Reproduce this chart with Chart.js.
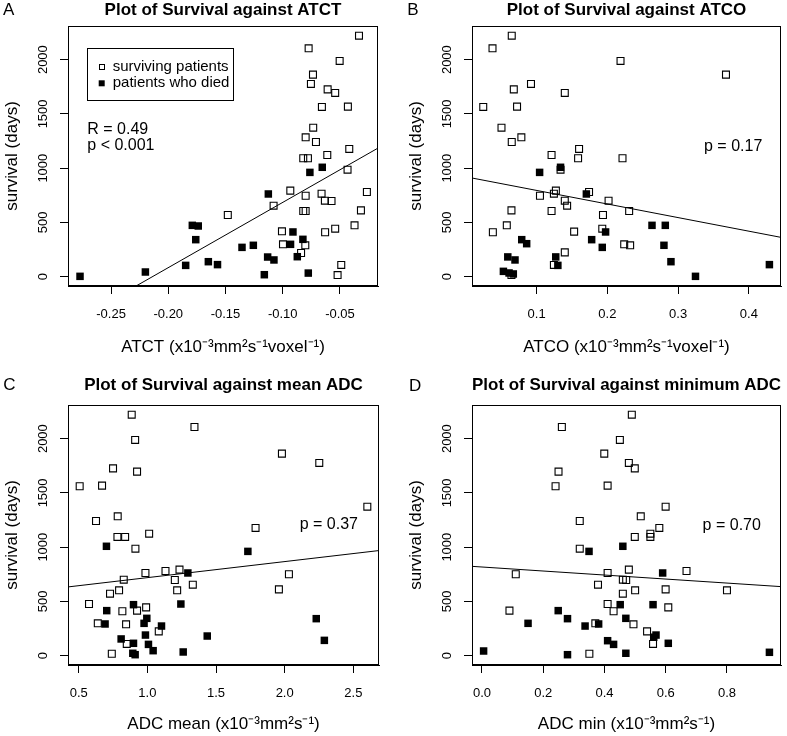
<!DOCTYPE html>
<html><head><meta charset="utf-8">
<script src="https://cdn.jsdelivr.net/npm/chart.js@4.4.1/dist/chart.umd.min.js"></script>
<style>
html,body{margin:0;padding:0;background:#fff;}
#wrap{position:relative;width:787px;height:736px;overflow:hidden;background:#fff;}
canvas{position:absolute;}
</style></head><body>
<div id="wrap">
<canvas id="cA" width="394" height="360" style="left:0px;top:0px"></canvas>
<canvas id="cB" width="383" height="360" style="left:404px;top:0px"></canvas>
<canvas id="cC" width="394" height="376" style="left:0px;top:360px"></canvas>
<canvas id="cD" width="383" height="376" style="left:404px;top:360px"></canvas>
</div>
<script>
// ---- shared y axis ----
const survivalTicks = [0, 500, 1000, 1500, 2000];
const survivalTickLabels = ['0', '500', '1000', '1500', '2000'];
const survivalRange = [-86, 2310];

// ---- Panel A: ATCT ----
const atctSurvivingX = [-0.0334,-0.0774,-0.0503,-0.0736,-0.0754,-0.0608,-0.0542,-0.0658,-0.0431,-0.0734,-0.080,-0.071,-0.0611,-0.0419,-0.0821,-0.078,-0.0434,-0.0934,-0.0661,-0.0265,-0.080,-0.108,-0.0632,-0.0574,-0.0821,-0.080,-0.0317,-0.148,-0.0373,-0.0542,-0.063,-0.1007,-0.0998,-0.0803,-0.084,-0.0489,-0.0521];
const atctSurvivingDays = [2221,2104,1988,1862,1776,1726,1693,1564,1567,1373,1284,1241,1121,1177,1091,1091,986,793,765,780,746,654,700,697,605,605,611,568,473,442,409,418,298,289,218,108,15];
const atctDiedX = [-0.2771,-0.22,-0.1848,-0.179,-0.1738,-0.176,-0.165,-0.157,-0.1356,-0.1257,-0.1126,-0.1132,-0.1077,-0.1161,-0.0911,-0.0932,-0.0824,-0.0873,-0.0777,-0.0763,-0.0655];
const atctDiedDays = [3,43,104,473,467,341,138,111,270,289,762,181,154,18,412,298,344,184,33,961,1008];
const atctTicks = [-0.25,-0.20,-0.15,-0.10,-0.05];
const atctTickLabels = ['-0.25','-0.20','-0.15','-0.10','-0.05'];
const atctRange = [-0.2876, -0.0168];
const atctFit = [1286, 6014]; // intercept, slope

// ---- Panel B: ATCO ----
const atcoSurvivingX = [0.0648,0.0376,0.2186,0.3677,0.092,0.0677,0.1398,0.0245,0.0723,0.0503,0.0784,0.0648,0.1211,0.16,0.1586,0.2214,0.1338,0.1272,0.1047,0.1244,0.1741,0.1398,0.2017,0.1431,0.1211,0.0644,0.2308,0.1938,0.0578,0.153,0.1928,0.0381,0.2238,0.2322,0.1398,0.1244,0.0644];
const atcoSurvivingDays = [2221,2104,1988,1862,1776,1726,1693,1564,1567,1373,1284,1241,1121,1177,1091,1091,986,793,746,765,780,700,700,654,605,611,605,568,473,415,442,409,298,289,224,108,15];
const atcoDiedX = [0.3246,0.053,0.061,0.067,0.0592,0.0694,0.0789,0.0859,0.1042,0.1338,0.127,0.130,0.1703,0.1778,0.1928,0.1975,0.2631,0.2819,0.28,0.2899,0.4291];
const atcoDiedDays = [3,49,34,25,182,154,341,304,961,1008,182,104,762,341,270,412,473,473,289,138,111];
const atcoTicks = [0.1,0.2,0.3,0.4];
const atcoTickLabels = ['0.1','0.2','0.3','0.4'];
const atcoRange = [0.0086, 0.4455];
const atcoFit = [920, -1252];

// ---- Panel C: mean ADC ----
const meanSurvivingX = [0.886,1.343,0.911,1.98,2.252,0.75,0.925,0.507,0.67,2.602,0.784,0.626,1.013,1.788,0.782,0.838,0.913,1.132,1.234,0.986,2.031,0.828,1.2,1.331,0.794,1.217,1.958,0.728,0.575,0.991,0.818,0.925,0.639,0.845,1.083,0.85,0.741];
const meanSurvivingDays = [2221,2107,1988,1862,1776,1726,1696,1561,1567,1373,1284,1241,1124,1177,1094,1094,986,780,793,762,750,700,697,654,602,602,611,571,476,445,409,415,298,289,224,108,18];
const meanDiedX = [0.702,1.732,1.295,0.899,1.244,0.704,0.996,0.976,2.23,0.692,1.103,0.986,1.436,0.809,0.899,1.008,2.289,1.042,1.261,0.894,0.911];
const meanDiedDays = [1008,961,762,470,476,415,344,298,341,292,273,190,181,154,114,104,141,46,34,22,9];
const meanTicks = [0.5,1.0,1.5,2.0,2.5];
const meanTickLabels = ['0.5','1.0','1.5','2.0','2.5'];
const meanRange = [0.422, 2.687];
const meanFit = [571, 148];

// ---- Panel D: minimum ADC ----
const minSurvivingX = [0.4893,0.2609,0.4503,0.3994,0.4796,0.499,0.25,0.2403,0.4103,0.5997,0.5185,0.3193,0.5499,0.5791,0.5499,0.499,0.3193,0.6679,0.4796,0.4103,0.1104,0.46,0.4709,0.3789,0.5001,0.8,0.5997,0.46,0.4103,0.6084,0.0898,0.4298,0.3702,0.4947,0.5391,0.5586,0.3507];
const minSurvivingDays = [2221,2107,1988,1862,1776,1726,1696,1561,1567,1373,1284,1241,1124,1177,1094,1094,986,780,793,762,750,700,697,654,602,602,611,571,476,445,415,409,298,289,224,108,18];
const minDiedX = [0.46,0.3496,0.59,0.4514,0.5586,0.249,0.4698,0.381,0.2793,0.1505,0.3367,0.5683,0.5608,0.4103,0.4298,0.6084,0.0054,0.4698,0.2793,0.9386];
const minDiedDays = [1008,961,762,470,470,415,344,292,341,298,273,190,170,138,104,114,43,22,9,31];
const minTicks = [0.0,0.2,0.4,0.6,0.8];
const minTickLabels = ['0.0','0.2','0.4','0.6','0.8'];
const minRange = [-0.0325, 0.9764];
const minFit = [817, -185];

const FONT = "'Liberation Sans', Arial, Helvetica, sans-serif";
Chart.defaults.font.family = FONT;
Chart.defaults.color = '#000';

function overlay(p) {
  return {
    id: 'overlay' + p.letter,
    afterDraw(chart) {
      const ctx = chart.ctx, a = chart.chartArea;
      ctx.save();
      ctx.strokeStyle = '#000'; ctx.lineWidth = 1;
      ctx.strokeRect(Math.round(a.left) + 0.5, Math.round(a.top) + 0.5, Math.round(a.right - a.left) - 1, Math.round(a.bottom - a.top) - 1);
      ctx.fillStyle = '#000';
      ctx.textBaseline = 'middle'; ctx.textAlign = 'left';
      ctx.font = '17px ' + FONT;
      ctx.fillText(p.letter, p.letterPos[0], p.letterPos[1]);
      ctx.font = '16px ' + FONT;
      p.notes.forEach(n => ctx.fillText(n.text, a.left + n.dx, a.top + n.dy));
      if (p.legend) {
        const bx = Math.round(a.left + 19.3) + 0.5, by = Math.round(a.top + 22.3) + 0.5;
        ctx.strokeRect(bx, by, 146, 52);
        ctx.font = '15px ' + FONT;
        const ds = chart.data.datasets;
        const rows = [ds[2], ds[1]];
        rows.forEach((d, i) => {
          const cy = a.top + 40.7 + i * 16.6;
          const cx = a.left + 33.7;
          if (d.borderWidth > 0) {
            ctx.lineWidth = 1;
            ctx.strokeRect(Math.round(cx - 2.5) + 0.5, Math.round(cy - 2.5) + 0.5, 5, 5);
          } else {
            ctx.fillRect(cx - 3, cy - 3, 6, 6);
          }
          ctx.fillText(d.label, a.left + 44.7, cy);
        });
      }
      ctx.restore();
    }
  };
}

function build(p) {
  const pts = (xs, ys) => xs.map((x, i) => ({x: x, y: ys[i]}));
  const fitLine = p.range.map(x => ({x: x, y: p.fit[0] + p.fit[1] * x}));
  const grid = {display: true, drawOnChartArea: false, drawTicks: true, tickLength: 8, tickColor: '#000', color: '#000', lineWidth: 1};
  return new Chart(document.getElementById(p.id), {
    type: 'scatter',
    data: {datasets: [
      {type: 'line', label: 'fit', data: fitLine, borderColor: '#000', borderWidth: 1, pointRadius: 0, fill: false},
      {label: 'patients who died', data: pts(p.dx, p.dy), pointStyle: 'rect', pointRadius: 5.3, backgroundColor: '#000', borderColor: '#000', borderWidth: 0},
      {label: 'surviving patients', data: pts(p.sx, p.sy), pointStyle: 'rect', pointRadius: 4.9, backgroundColor: 'rgba(0,0,0,0)', borderColor: '#000', borderWidth: 1.1}
    ]},
    options: {
      responsive: false, animation: false, events: [],
      layout: {padding: {left: 0, right: p.padR, top: 0, bottom: 0}},
      plugins: {
        legend: {display: false}, tooltip: {enabled: false},
        title: {display: true, text: p.title, fullSize: false, color: '#000', font: {size: 17, weight: 'bold'}, padding: {top: p.tPad[0], bottom: p.tPad[1]}}
      },
      scales: {
        x: {
          type: 'linear', min: p.range[0], max: p.range[1],
          afterBuildTicks: s => { s.ticks = p.ticks.map(v => ({value: v})); },
          afterFit: s => { s.height = p.xAxisH; },
          ticks: {autoSkip: false, font: {size: 13}, color: '#000', padding: 13, maxRotation: 0, minRotation: 0, callback: (v, i) => p.tickLabels[i]},
          grid: grid, border: {display: true, color: '#000', width: 1},
          title: {display: true, text: p.xTitle, font: {size: 17}, color: '#000', padding: {top: 0, bottom: p.xtPad}}
        },
        y: {
          type: 'linear', min: survivalRange[0], max: survivalRange[1],
          afterBuildTicks: s => { s.ticks = survivalTicks.map(v => ({value: v})); },
          afterFit: s => { s.width = 68; },
          ticks: {autoSkip: false, font: {size: 13}, color: '#000', padding: 2.5, minRotation: 90, maxRotation: 90, crossAlign: 'center', callback: (v, i) => survivalTickLabels[i]},
          grid: grid, border: {display: true, color: '#000', width: 1},
          title: {display: true, text: 'survival (days)', font: {size: 17}, color: '#000', padding: {top: 2, bottom: 0}}
        }
      }
    },
    plugins: [overlay(p)]
  });
}

build({id: 'cA', letter: 'A', letterPos: [3, 10], padR: 16, xAxisH: 74, tPad: [0, 5.6], xtPad: 2,
  title: 'Plot of Survival against ATCT', xTitle: 'ATCT (x10\u207B\u00B3mm\u00B2s\u207B\u00B9voxel\u207B\u00B9)',
  sx: atctSurvivingX, sy: atctSurvivingDays, dx: atctDiedX, dy: atctDiedDays,
  ticks: atctTicks, tickLabels: atctTickLabels, range: atctRange, fit: atctFit,
  notes: [{text: 'R = 0.49', dx: 19.3, dy: 104}, {text: 'p < 0.001', dx: 19.3, dy: 120}], legend: true});

build({id: 'cB', letter: 'B', letterPos: [3.3, 10], padR: 4.5, xAxisH: 74, tPad: [0, 5.6], xtPad: 2,
  title: 'Plot of Survival against ATCO', xTitle: 'ATCO (x10\u207B\u00B3mm\u00B2s\u207B\u00B9voxel\u207B\u00B9)',
  sx: atcoSurvivingX, sy: atcoSurvivingDays, dx: atcoDiedX, dy: atcoDiedDays,
  ticks: atcoTicks, tickLabels: atcoTickLabels, range: atcoRange, fit: atcoFit,
  notes: [{text: 'p = 0.17', dx: 232, dy: 121}], legend: false});

build({id: 'cC', letter: 'C', letterPos: [3.3, 25.5], padR: 15, xAxisH: 71, tPad: [14.8, 9.8], xtPad: 1.5,
  title: 'Plot of Survival against mean ADC', xTitle: 'ADC mean (x10\u207B\u00B3mm\u00B2s\u207B\u00B9)',
  sx: meanSurvivingX, sy: meanSurvivingDays, dx: meanDiedX, dy: meanDiedDays,
  ticks: meanTicks, tickLabels: meanTickLabels, range: meanRange, fit: meanFit,
  notes: [{text: 'p = 0.37', dx: 231.7, dy: 120}], legend: false});

build({id: 'cD', letter: 'D', letterPos: [5, 26.7], padR: 4.5, xAxisH: 71, tPad: [14.8, 9.8], xtPad: 1.5,
  title: 'Plot of Survival against minimum ADC', xTitle: 'ADC min (x10\u207B\u00B3mm\u00B2s\u207B\u00B9)',
  sx: minSurvivingX, sy: minSurvivingDays, dx: minDiedX, dy: minDiedDays,
  ticks: minTicks, tickLabels: minTickLabels, range: minRange, fit: minFit,
  notes: [{text: 'p = 0.70', dx: 230.6, dy: 121}], legend: false});
</script>
</body></html>
